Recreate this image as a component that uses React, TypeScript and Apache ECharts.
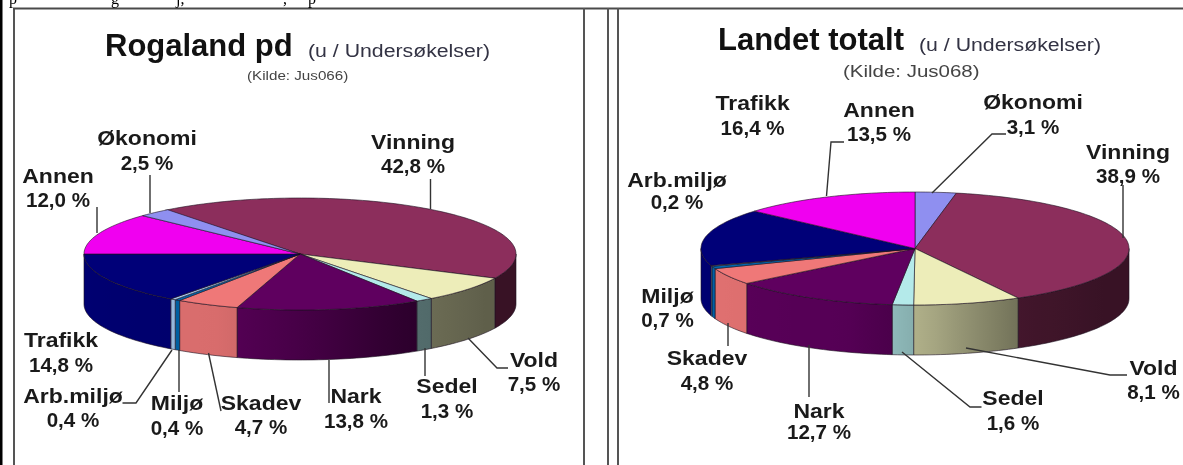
import React, { useEffect, useRef } from "react";
import * as echarts from "echarts";

const categoriesA = ["Vinning", "Vold", "Sedel", "Nark", "Skadev", "Miljø", "Arb.miljø", "Trafikk", "Annen", "Økonomi"];
const rogalandValues = [42.8, 7.5, 1.3, 13.8, 4.7, 0.4, 0.4, 14.8, 12.0, 2.5];
const categoriesB = ["Økonomi", "Vinning", "Vold", "Sedel", "Nark", "Skadev", "Miljø", "Arb.miljø", "Trafikk", "Annen"];
const landetValues = [3.1, 38.9, 8.1, 1.6, 12.7, 4.8, 0.7, 0.2, 16.4, 13.5];

const sliceColors: Record<string, number[]> = {
  Vinning: [140, 46, 92],
  Vold: [237, 237, 185],
  Sedel: [180, 234, 234],
  Nark: [95, 0, 95],
  Skadev: [239, 120, 120],
  "Miljø": [0, 104, 176],
  "Arb.miljø": [166, 202, 240],
  Trafikk: [0, 0, 120],
  Annen: [240, 0, 240],
  "Økonomi": [143, 143, 240],
};

// side-wall brightness by angle clockwise from the back of the pie
const shadeStops = [[90, 0.4], [120, 0.4], [150, 0.47], [165, 0.6], [175, 0.7], [185, 0.78], [200, 0.9], [270, 0.95]];

type Layout = { c: number; y1: number; y2: number; line?: number[][] };

const layoutA: Record<string, Layout> = {
  Vinning: { c: 413, y1: 142, y2: 166, line: [[430.5, 179], [430.5, 209]] },
  Vold: { c: 534, y1: 360, y2: 384, line: [[468, 338], [497, 368], [508, 368]] },
  Sedel: { c: 447, y1: 386, y2: 411, line: [[425, 348], [425, 376]] },
  Nark: { c: 356, y1: 396, y2: 421, line: [[329, 360], [329, 403]] },
  Skadev: { c: 261, y1: 403, y2: 427, line: [[208.5, 353], [221, 411]] },
  "Miljø": { c: 177, y1: 403, y2: 428, line: [[179, 350], [179, 392]] },
  "Arb.miljø": { c: 73, y1: 396, y2: 420, line: [[172, 350], [136, 403], [122.5, 403]] },
  Trafikk: { c: 61, y1: 340, y2: 365 },
  Annen: { c: 58, y1: 176, y2: 200, line: [[97, 207], [97, 233]] },
  "Økonomi": { c: 147, y1: 138, y2: 163, line: [[150, 175], [150, 213]] },
};

const layoutB: Record<string, Layout> = {
  "Økonomi": { c: 1033, y1: 102, y2: 127, line: [[932, 193], [992, 134], [1006, 134]] },
  Vinning: { c: 1128, y1: 152, y2: 176, line: [[1123, 185], [1123, 238]] },
  Vold: { c: 1153.5, y1: 368, y2: 392, line: [[966, 348], [1110, 375], [1127, 375]] },
  Sedel: { c: 1013, y1: 398, y2: 423, line: [[902, 352], [970, 407], [981.5, 407]] },
  Nark: { c: 819, y1: 411, y2: 432, line: [[809, 345], [809, 397]] },
  Skadev: { c: 707, y1: 358, y2: 383, line: [[728, 323], [728, 346]] },
  "Miljø": { c: 667.5, y1: 296, y2: 320 },
  "Arb.miljø": { c: 677, y1: 180, y2: 202 },
  Trafikk: { c: 752.6, y1: 103, y2: 128 },
  Annen: { c: 879, y1: 110, y2: 134, line: [[826.5, 196], [831, 142], [844, 142]] },
};

const rgb = (c: number[], k = 1) => `rgb(${Math.round(c[0] * k)},${Math.round(c[1] * k)},${Math.round(c[2] * k)})`;
const rad = (d: number) => (d * Math.PI) / 180;

function shade(t: number) {
  for (let i = 1; i < shadeStops.length; i++) {
    const [a, sa] = shadeStops[i - 1];
    const [b, sb] = shadeStops[i];
    if (t <= b) return sa + ((sb - sa) * (t - a)) / (b - a);
  }
  return 0.95;
}

type Geo = { cx: number; cy: number; rx: number; ry: number; depth: number; start: number };

function pieSeries(cats: string[], vals: number[], layout: Record<string, Layout>, g: Geo) {
  const px = (t: number) => g.cx + g.rx * Math.sin(rad(t));
  const py = (t: number) => g.cy - g.ry * Math.cos(rad(t));
  const arc = (a: number, b: number) => {
    const pts: number[][] = [];
    const n = Math.max(2, Math.ceil((b - a) / 1.5));
    for (let i = 0; i <= n; i++) {
      const t = a + ((b - a) * i) / n;
      pts.push([px(t), py(t)]);
    }
    return pts;
  };
  return {
    type: "custom",
    coordinateSystem: "none",
    silent: true,
    data: vals.map((v) => [v]),
    renderItem: (params: any, api: any) => {
      const i = params.dataIndex;
      const before = vals.slice(0, i).reduce((s, v) => s + v, 0);
      const a = g.start + (before / 100) * 360;
      const b = a + (api.value(0) / 100) * 360;
      const name = cats[i];
      const col = sliceColors[name];
      const children: any[] = [];
      // front wall: the pie is only seen from 90 to 270 degrees
      for (const off of [0, 360]) {
        const sa = Math.max(a + off, 90);
        const sb = Math.min(b + off, 270);
        if (sb > sa) {
          const top = arc(sa, sb);
          const bottom = top.map((p) => [p[0], p[1] + g.depth]).reverse();
          const x0 = px(sb);
          const x1 = px(sa);
          const stops: any[] = [];
          const n = Math.max(1, Math.ceil((sb - sa) / 6));
          for (let k = 0; k <= n; k++) {
            const t = sb - ((sb - sa) * k) / n;
            stops.push({ offset: x1 > x0 ? Math.min(1, Math.max(0, (px(t) - x0) / (x1 - x0))) : 0, color: rgb(col, shade(t)) });
          }
          children.push({
            type: "polygon",
            shape: { points: [...top, ...bottom] },
            style: {
              fill: new echarts.graphic.LinearGradient(0, 0, 1, 0, stops),
              stroke: "#1c1020",
              lineWidth: 0.6,
            },
          });
        }
      }
      children.push({
        type: "polygon",
        shape: { points: [[g.cx, g.cy], ...arc(a, b)] },
        style: { fill: rgb(col), stroke: "#1c1020", lineWidth: 0.6 },
      });
      const l = layout[name];
      if (l.line) {
        children.push({
          type: "polyline",
          shape: { points: l.line },
          style: { fill: "none", stroke: "#333333", lineWidth: 1.4 },
        });
      }
      const value = `${api.value(0).toFixed(1).replace(".", ",")} %`;
      for (const [text, y, sx] of [[name, l.y1, 1.15], [value, l.y2, 1.03]] as [string, number, number][]) {
        children.push({
          type: "text",
          x: l.c,
          y,
          scaleX: sx,
          style: {
            text,
            font: 'bold 20px "Liberation Sans"',
            fill: "#1a1a1a",
            textAlign: "center",
            textVerticalAlign: "middle",
          },
        });
      }
      return { type: "group", children };
    },
  };
}

const frameBars = [
  { x: 0, y: 0, w: 2.5, h: 465, c: "#000000" },
  { x: 13, y: 8, w: 2, h: 457, c: "#555555" },
  { x: 13, y: 7.5, w: 1170, h: 2, c: "#4a4a4a" },
  { x: 583, y: 8, w: 2, h: 457, c: "#555555" },
  { x: 607, y: 8, w: 2, h: 457, c: "#555555" },
  { x: 617, y: 8, w: 2, h: 457, c: "#555555" },
];

const clippedLine = [
  { t: "p", x: 9 }, { t: "g", x: 111 }, { t: "j,", x: 176 }, { t: ",", x: 283 }, { t: "p", x: 308 },
];

function headText(text: string, x: number, y: number, size: number, weight: string, fill: string, sx: number) {
  return {
    type: "text",
    x,
    y,
    scaleX: sx,
    style: { text, font: `${weight} ${size}px "Liberation Sans"`, fill, textAlign: "left", textVerticalAlign: "middle" },
  };
}

export default function App() {
  const ref = useRef<HTMLDivElement>(null);
  useEffect(() => {
    const chart = echarts.init(ref.current!, undefined, { renderer: "svg" });
    chart.setOption({
      animation: false,
      backgroundColor: "#ffffff",
      graphic: {
        elements: [
          ...frameBars.map((b) => ({
            type: "rect",
            shape: { x: b.x, y: b.y, width: b.w, height: b.h },
            style: { fill: b.c },
          })),
          ...clippedLine.map((c) => ({
            type: "text",
            x: c.x,
            y: -10,
            style: { text: c.t, font: '16px "Liberation Serif"', fill: "#000" },
          })),
          headText("Rogaland pd", 105, 45, 31, "bold", "#111111", 1),
          headText("(u / Undersøkelser)", 308, 50, 19, "normal", "#333344", 1.12),
          headText("(Kilde: Jus066)", 247, 75, 13, "normal", "#444444", 1.17),
          headText("Landet totalt", 718, 39, 31, "bold", "#111111", 1),
          headText("(u / Undersøkelser)", 919, 44, 19, "normal", "#333344", 1.12),
          headText("(Kilde: Jus068)", 843, 71, 16, "normal", "#444444", 1.28),
        ],
      },
      series: [
        pieSeries(categoriesA, rogalandValues, layoutA, { cx: 300, cy: 254, rx: 216, ry: 56, depth: 50, start: -38.5 }),
        pieSeries(categoriesB, landetValues, layoutB, { cx: 915, cy: 248.5, rx: 214, ry: 56.5, depth: 50, start: 0 }),
      ],
    });
    return () => chart.dispose();
  }, []);
  return (
    <div
      ref={ref}
      style={{ position: "absolute", left: 0, top: 0, width: 1183, height: 465, filter: "blur(0.55px)" }}
    />
  );
}
